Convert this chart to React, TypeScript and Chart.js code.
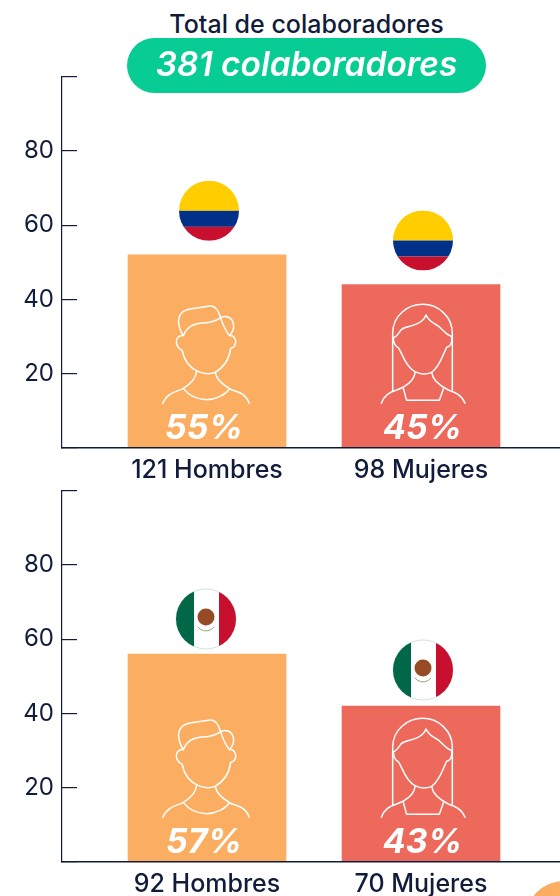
import React, { useEffect, useRef } from "react";
import { Chart, registerables } from "chart.js";

Chart.register(...registerables);

const FONT = "Inter";
const INK = "#101c3a";
const ORANGE = "#fbae62";
const CORAL = "#ec695c";
const GREEN = "#07cc93";

const titleText = "Total de colaboradores";
const totalText = "381 colaboradores";

const colombiaValues = [52, 44];
const colombiaLabels = ["121 Hombres", "98 Mujeres"];
const colombiaPercents = ["55%", "45%"];

const mexicoValues = [56, 42];
const mexicoLabels = ["92 Hombres", "70 Mujeres"];
const mexicoPercents = ["57%", "43%"];

const MAN = [
  "M97 118C88 100 82 85 87 68C92 50 105 43 125 41L180 33C195 31 205 45 212 68C218 90 228 108 238 122",
  "M212 68C225 60 245 65 250 85C253 100 248 112 238 122",
  "M100 122C110 95 130 85 160 84C180 83 197 80 212 68",
  "M100 122C85 120 78 132 79 142C80 155 92 165 96 165C100 185 110 215 145 230C165 238 180 238 195 232C225 215 238 190 242 160C252 160 258 148 257 138C256 128 248 120 238 122",
  "M140 228C138 250 120 268 100 280C85 290 55 288 38 325",
  "M196 232C198 250 220 270 240 282C260 292 285 290 298 325",
  "M100 280C115 300 140 313 170 314C195 314 225 300 238 282",
].join(" ");

const WOMAN = [
  "M38 288L38 115C38 60 85 28 128 28C175 28 217 65 217 115L217 285",
  "M40 128C52 125 58 110 65 103C80 92 105 95 125 78C132 72 136 66 138 60C142 70 155 82 170 90C185 97 190 115 215 125",
  "M40 128C40 135 40 150 55 158C65 170 75 215 105 230C120 238 140 238 155 232C180 215 190 175 200 157C210 155 217 145 215 125",
  "M105 232C103 255 80 275 50 285C30 290 12 300 4 325",
  "M155 232C158 255 175 270 205 285C225 292 245 300 255 325",
  "M70 280L80 316L178 316L190 282",
].join(" ");

function drawColombia(ctx: CanvasRenderingContext2D, cx: number, cy: number) {
  const r = 30;
  ctx.save();
  ctx.beginPath();
  ctx.arc(cx, cy, r, 0, Math.PI * 2);
  ctx.clip();
  ctx.fillStyle = "#ffcd00";
  ctx.fillRect(cx - r, cy - r, r * 2, r);
  ctx.fillStyle = "#003087";
  ctx.fillRect(cx - r, cy, r * 2, 16);
  ctx.fillStyle = "#c8102e";
  ctx.fillRect(cx - r, cy + 16, r * 2, r - 16);
  ctx.restore();
}

function drawMexico(ctx: CanvasRenderingContext2D, cx: number, cy: number) {
  const r = 30;
  ctx.save();
  ctx.beginPath();
  ctx.arc(cx, cy, r, 0, Math.PI * 2);
  ctx.fillStyle = "#ffffff";
  ctx.fill();
  ctx.strokeStyle = "#c4dcd4";
  ctx.lineWidth = 0.8;
  ctx.stroke();
  ctx.clip();
  ctx.fillStyle = "#006847";
  ctx.fillRect(cx - r, cy - r, r - 12, r * 2);
  ctx.fillStyle = "#c8102e";
  ctx.fillRect(cx + 13, cy - r, r - 13, r * 2);
  ctx.fillStyle = "#964b25";
  ctx.beginPath();
  ctx.arc(cx, cy - 2, 8.5, 0, Math.PI * 2);
  ctx.fill();
  ctx.strokeStyle = "#9aa56e";
  ctx.lineWidth = 1;
  ctx.beginPath();
  ctx.arc(cx, cy + 2, 10, Math.PI * 0.2, Math.PI * 0.8);
  ctx.stroke();
  ctx.restore();
}

type Spec = {
  values: number[];
  labels: string[];
  percents: string[];
  flag: (ctx: CanvasRenderingContext2D, cx: number, cy: number) => void;
  flagOffsets: { dx: number; dy: number }[];
};

const overlayPlugin = (spec: Spec) => ({
  id: "overlay",
  afterDatasetsDraw(chart: any) {
    const { ctx } = chart;
    const baseY = chart.scales.y.getPixelForValue(0);
    chart.getDatasetMeta(0).data.forEach((bar: any, i: number) => {
      const off = spec.flagOffsets[i];
      spec.flag(ctx, bar.x + off.dx, bar.y + off.dy);

      ctx.save();
      ctx.strokeStyle = "#ffffff";
      ctx.lineWidth = 4.5;
      ctx.lineJoin = "round";
      ctx.lineCap = "round";
      ctx.translate(bar.x + (i === 0 ? -57 : -41), baseY - 153);
      ctx.scale(1 / 3, 1 / 3);
      ctx.stroke(new Path2D(i === 0 ? MAN : WOMAN));
      ctx.restore();

      ctx.save();
      ctx.fillStyle = "#ffffff";
      ctx.font = `italic 700 34px ${FONT}`;
      ctx.textAlign = "center";
      ctx.textBaseline = "middle";
      ctx.fillText(spec.percents[i], bar.x + (i === 0 ? -3 : 1.5), baseY - 19);
      ctx.restore();
    });
  },
});

function BarPanel({ spec, top, xAxisHeight }: { spec: Spec; top: number; xAxisHeight: number }) {
  const ref = useRef<HTMLCanvasElement>(null);
  useEffect(() => {
    const chart = new Chart(ref.current!, {
      type: "bar",
      data: {
        datasets: [
          {
            data: spec.values.map((y, x) => ({ x, y })),
            backgroundColor: [ORANGE, CORAL],
            barThickness: 158,
          },
        ],
      },
      options: {
        responsive: false,
        animation: false,
        layout: { padding: { top: 16.5, left: 0, right: 0, bottom: 0 } },
        plugins: { legend: { display: false }, tooltip: { enabled: false }, title: { display: false } },
        scales: {
          x: {
            type: "linear",
            offset: false,
            min: -0.6776,
            max: 1.6495,
            afterBuildTicks: (s: any) => {
              s.ticks = spec.labels.map((_, value) => ({ value }));
            },
            afterFit: (s: any) => {
              s.height = xAxisHeight;
              s.paddingLeft = 0;
              s.paddingRight = 0;
            },
            grid: { display: false },
            border: { display: true, color: INK, width: 1.5, z: 1 },
            ticks: {
              autoSkip: false,
              maxRotation: 0,
              minRotation: 0,
              padding: -1,
              color: INK,
              font: { family: FONT, size: 25, weight: 500 },
              callback: (v: any) => spec.labels[v] ?? "",
            },
          },
          y: {
            min: 0,
            max: 100,
            afterFit: (s: any) => {
              s.width = 62;
              s.paddingTop = 0;
              s.paddingBottom = 0;
            },
            grid: { drawOnChartArea: false, drawTicks: true, tickLength: -15, color: INK, lineWidth: 1.2 },
            border: { display: true, color: INK, width: 1.2 },
            ticks: {
              stepSize: 20,
              padding: 23,
              color: INK,
              font: { family: FONT, size: 24 },
              callback: (v: any) => (v === 0 || v === 100 ? "" : String(v)),
            },
          },
        },
      } as any,
      plugins: [overlayPlugin(spec) as any],
    });
    return () => chart.destroy();
  }, []);
  return (
    <canvas
      ref={ref}
      width={560}
      height={425}
      style={{ position: "absolute", left: 0, top, display: "block" }}
    />
  );
}

const colombiaSpec: Spec = {
  values: colombiaValues,
  labels: colombiaLabels,
  percents: colombiaPercents,
  flag: drawColombia,
  flagOffsets: [
    { dx: 2, dy: -44 },
    { dx: 2, dy: -44 },
  ],
};

const mexicoSpec: Spec = {
  values: mexicoValues,
  labels: mexicoLabels,
  percents: mexicoPercents,
  flag: drawMexico,
  flagOffsets: [
    { dx: -1, dy: -35 },
    { dx: 2, dy: -36 },
  ],
};

export default function App() {
  return (
    <div
      style={{
        position: "fixed",
        left: 0,
        top: 0,
        width: 560,
        height: 896,
        overflow: "hidden",
        background: "#ffffff",
        fontFamily: FONT,
      }}
    >
      <BarPanel spec={colombiaSpec} top={60} xAxisHeight={37} />
      <BarPanel spec={mexicoSpec} top={474} xAxisHeight={37} />
      <div
        style={{
          position: "absolute",
          left: 127,
          width: 359,
          top: 9,
          textAlign: "center",
          fontSize: 25,
          lineHeight: "30px",
          fontWeight: 500,
          color: INK,
          whiteSpace: "nowrap",
        }}
      >
        {titleText}
      </div>
      <div
        style={{
          position: "absolute",
          left: 127,
          top: 38,
          width: 359,
          height: 55,
          borderRadius: 27.5,
          background: GREEN,
          color: "#ffffff",
          fontStyle: "italic",
          fontWeight: 600,
          fontSize: 33.5,
          lineHeight: "53px",
          textAlign: "center",
          whiteSpace: "nowrap",
        }}
      >
        {totalText}
      </div>
      <div
        style={{
          position: "absolute",
          left: 525,
          top: 881,
          width: 78,
          height: 78,
          borderRadius: "50%",
          background: ORANGE,
        }}
      />
    </div>
  );
}
